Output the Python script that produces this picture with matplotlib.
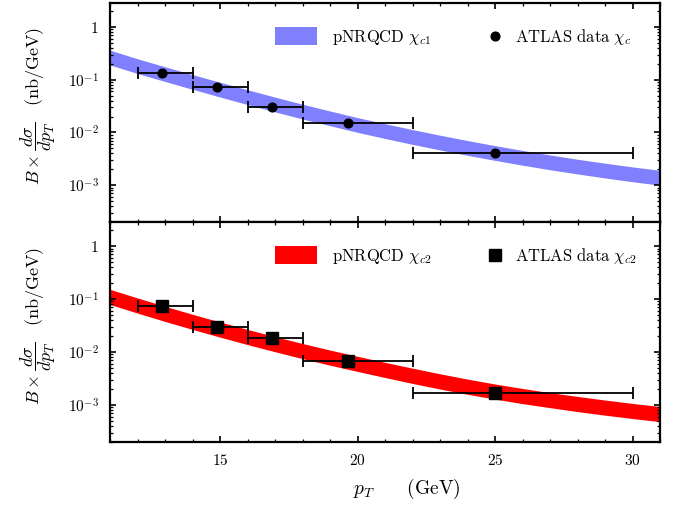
import numpy as np
import matplotlib
matplotlib.use('Agg')
import matplotlib.pyplot as plt
from matplotlib.patches import Patch
from matplotlib.lines import Line2D
from matplotlib.ticker import FixedLocator, FixedFormatter, LogLocator, MultipleLocator, NullFormatter

plt.rcParams['mathtext.fontset'] = 'cm'
plt.rcParams['font.family'] = 'serif'

##DATA##########################################################################
pt_band = [11, 12, 13, 14, 15, 16, 17, 18, 19, 20, 21, 22, 23, 24, 25, 26, 27, 28, 29, 30, 31]

# pNRQCD chi_c1 band (nb/GeV)
c1_hi = [0.363, 0.2497, 0.1760, 0.1250, 0.0895, 0.0645, 0.0468, 0.0343, 0.0255, 0.01912, 0.01462,
         0.01131, 0.00886, 0.00701, 0.00562, 0.00456, 0.00374, 0.00310, 0.00261, 0.00222, 0.00191]
c1_lo = [0.1905, 0.1311, 0.0925, 0.0657, 0.0470, 0.0338, 0.0245, 0.01800, 0.01340, 0.01003, 0.00767,
         0.00594, 0.00465, 0.00368, 0.00295, 0.00239, 0.00196, 0.00163, 0.00137, 0.00116, 0.00100]

# pNRQCD chi_c2 band (nb/GeV)
c2_hi = [0.1524, 0.1050, 0.0731, 0.0515, 0.0369, 0.0267, 0.01954, 0.01449, 0.01089, 0.00830, 0.00638,
         0.00495, 0.00388, 0.00308, 0.00249, 0.00205, 0.00171, 0.00145, 0.00124, 0.00107, 0.000935]
c2_lo = [0.0789, 0.0543, 0.0378, 0.0267, 0.0191, 0.0138, 0.01012, 0.00750, 0.00564, 0.00430, 0.00330,
         0.00255, 0.00200, 0.00159, 0.00129, 0.00106, 0.000890, 0.000750, 0.000642, 0.000555, 0.000484]

# ATLAS data
atlas_pt = [12.9, 14.9, 16.9, 19.65, 25.0]
atlas_bin_lo = [12, 14, 16, 18, 22]
atlas_bin_hi = [14, 16, 18, 22, 30]
atlas_c1 = [0.134, 0.0726, 0.0308, 0.0151, 0.0040]
atlas_c2 = [0.0737, 0.0299, 0.0185, 0.00687, 0.00169]
################################################################################

xerr = [np.array(atlas_pt) - np.array(atlas_bin_lo), np.array(atlas_bin_hi) - np.array(atlas_pt)]

fig = plt.figure(figsize=(6.77, 5.08), dpi=100)
W, H = 677.0, 508.0
ax1 = fig.add_axes([110 / W, 1 - 222 / H, 550 / W, 219 / H])
ax2 = fig.add_axes([110 / W, 1 - 442 / H, 550 / W, 220 / H], sharex=ax1)

panels = [
    (ax1, c1_lo, c1_hi, '#8080ff', atlas_c1, 'o', 6.3, r'$\mathrm{pNRQCD}\ \chi_{c1}$', r'$\mathrm{ATLAS\ data}\ \chi_c$'),
    (ax2, c2_lo, c2_hi, '#ff0000', atlas_c2, 's', 8.6, r'$\mathrm{pNRQCD}\ \chi_{c2}$', r'$\mathrm{ATLAS\ data}\ \chi_{c2}$'),
]

for ax, lo, hi, col, dat, mk, ms, lab_band, lab_dat in panels:
    ax.set_yscale('log')
    ax.fill_between(pt_band, lo, hi, color=col, linewidth=0)
    ax.errorbar(atlas_pt, dat, xerr=xerr, fmt=mk, color='k', ms=ms, elinewidth=1.3,
                capsize=4.3, capthick=1.3)
    ax.set_xlim(11, 31)
    ax.set_ylim(2e-4, 2.85)

    ax.yaxis.set_major_locator(FixedLocator([1e-3, 1e-2, 1e-1, 1]))
    ax.yaxis.set_major_formatter(FixedFormatter([r'$10^{-3}$', r'$10^{-2}$', r'$10^{-1}$', r'$1$']))
    ax.yaxis.set_minor_locator(LogLocator(base=10, subs=np.arange(2, 10), numticks=20))
    ax.yaxis.set_minor_formatter(NullFormatter())
    ax.xaxis.set_major_locator(FixedLocator([15, 20, 25, 30]))
    ax.xaxis.set_minor_locator(MultipleLocator(1))

    ax.tick_params(which='both', direction='in', top=True, right=True, labelsize=11)
    ax.tick_params(which='major', length=4, width=1.2, pad=8)
    ax.tick_params(which='minor', length=2, width=0.9)
    for s in ax.spines.values():
        s.set_linewidth(1.6)

    ax.set_ylabel(r'$B\times\dfrac{d\sigma}{dp_T}\quad(\mathrm{nb/GeV})$', fontsize=13)
    ax.yaxis.set_label_coords(-0.095, 0.53)

    h1 = Patch(facecolor=col, edgecolor='none')
    leg1 = ax.legend([h1], [lab_band], loc='center left', bbox_to_anchor=(0.30, 0.845),
                     frameon=False, fontsize=12, handlelength=2.5, handleheight=1.3,
                     handletextpad=0.95, borderpad=0, borderaxespad=0)
    ax.add_artist(leg1)
    h2 = Line2D([], [], color='k', marker=mk, ls='none', ms=ms)
    ax.legend([h2], [lab_dat], loc='center left', bbox_to_anchor=(0.685, 0.845),
              frameon=False, fontsize=12, handlelength=1.0, handletextpad=0.7,
              borderpad=0, borderaxespad=0)

ax1.xaxis.set_major_formatter(NullFormatter())
ax2.xaxis.set_major_formatter(FixedFormatter([r'$15$', r'$20$', r'$25$', r'$30$']))
ax2.set_xlabel(r'$p_T\qquad(\mathrm{GeV})$', fontsize=14)
ax2.xaxis.set_label_coords(0.54, -0.16)

fig.savefig('out.png', dpi=100)
